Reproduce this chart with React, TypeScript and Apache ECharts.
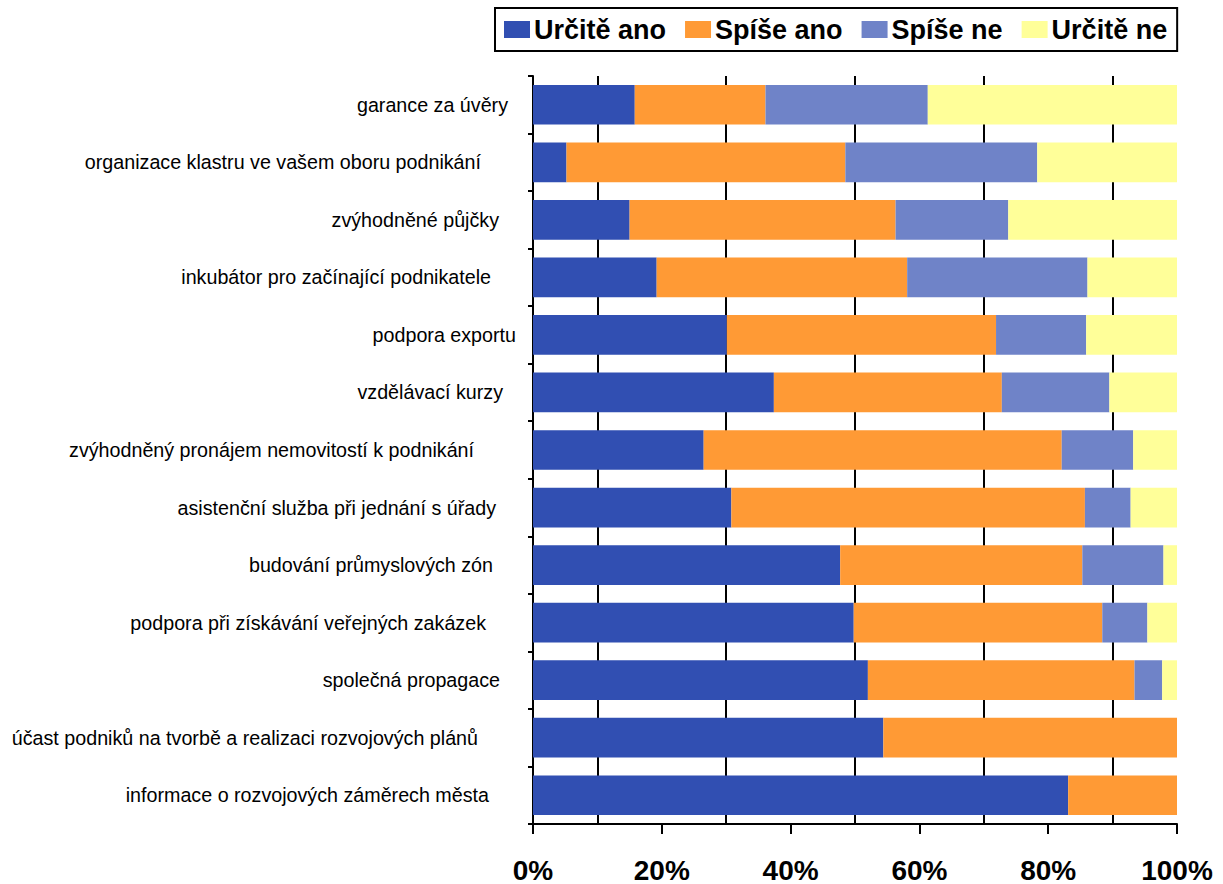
import React, { useEffect, useRef } from "react";
import * as echarts from "echarts";

const categories = [
  "garance za úvěry",
  "organizace klastru ve vašem oboru podnikání",
  "zvýhodněné půjčky",
  "inkubátor pro začínající podnikatele",
  "podpora exportu",
  "vzdělávací kurzy",
  "zvýhodněný pronájem nemovitostí k podnikání",
  "asistenční služba při jednání s úřady",
  "budování průmyslových zón",
  "podpora při získávání veřejných zakázek",
  "společná propagace",
  "účast podniků na tvorbě a realizaci rozvojových plánů",
  "informace o rozvojových záměrech města",
];

const seriesNames = ["Určitě ano", "Spíše ano", "Spíše ne", "Určitě ne"];

const urciteAno = [15.8, 5.2, 15.0, 19.2, 30.1, 37.4, 26.5, 30.8, 47.7, 49.8, 52.0, 54.4, 83.1];
const spiseAno = [20.3, 43.3, 41.3, 38.9, 41.8, 35.4, 55.6, 54.9, 37.6, 38.6, 41.4, 45.6, 16.9];
const spiseNe = [25.2, 29.8, 17.5, 28.0, 14.0, 16.7, 11.1, 7.1, 12.6, 7.0, 4.3, 0, 0];
const urciteNe = [38.7, 21.7, 26.2, 13.9, 14.1, 10.5, 6.8, 7.2, 2.1, 4.6, 2.3, 0, 0];

const gridLineValues = [10, 30, 50, 70, 90];

// right padding of each category label (styling only)
const labelPadRight = [17, 44, 26, 34, 9, 22, 51, 29, 32, 39, 25, 47, 36];

const colors = ["#314FB2", "#FF9A35", "#6F83C8", "#FFFF99"];

export default function App() {
  const ref = useRef<HTMLDivElement>(null);

  useEffect(() => {
    if (!ref.current) return;
    const chart = echarts.init(ref.current, null, { renderer: "svg" });
    const values = [urciteAno, spiseAno, spiseNe, urciteNe];
    const font = "'Liberation Sans', Arial, sans-serif";

    chart.setOption({
      animation: false,
      backgroundColor: "#ffffff",
      color: colors,
      textStyle: { fontFamily: font },
      legend: {
        left: 495,
        top: 8,
        orient: "horizontal",
        icon: "rect",
        itemWidth: 26,
        itemHeight: 17,
        itemGap: 19,
        padding: [8, 10, 8, 9],
        borderColor: "#000",
        borderWidth: 2,
        data: seriesNames,
        textStyle: {
          fontFamily: font,
          fontSize: 27,
          fontWeight: "bold",
          color: "#000",
          padding: [0, 0, 0, -1],
        },
      },
      grid: { left: 533, right: 46, top: 76, bottom: 57, containLabel: false },
      xAxis: {
        type: "value",
        min: 0,
        max: 100,
        interval: 20,
        axisLine: { show: true, lineStyle: { color: "#000", width: 2 } },
        axisTick: { show: true, length: 10, lineStyle: { color: "#000", width: 2 } },
        splitLine: { show: false },
        axisLabel: {
          formatter: "{value}%",
          fontFamily: font,
          fontSize: 28,
          fontWeight: "bold",
          color: "#000",
          margin: 32,
        },
      },
      yAxis: {
        type: "category",
        inverse: true,
        data: categories.map((c, i) => ({
          value: c,
          textStyle: { padding: [0, labelPadRight[i], 0, 0] },
        })),
        axisLine: { show: true, lineStyle: { color: "#000", width: 2 } },
        axisTick: { show: true, length: 5, lineStyle: { color: "#000", width: 2 } },
        splitLine: { show: false },
        axisLabel: {
          fontFamily: font,
          fontSize: 19.7,
          color: "#000",
          margin: 8,
        },
      },
      series: seriesNames.map((name, si) => ({
        name,
        type: "bar",
        stack: "total",
        barCategoryGap: "31%",
        data: values[si],
        itemStyle: { color: colors[si] },
        z: 2,
        ...(si === 0
          ? {
              markLine: {
                silent: true,
                z: 1,
                symbol: ["none", "none"],
                label: { show: false },
                lineStyle: { color: "#000", width: 2, type: "solid" },
                data: gridLineValues.map((v) => ({ xAxis: v })),
              },
            }
          : {}),
      })),
    });

    return () => chart.dispose();
  }, []);

  return (
    <div
      ref={ref}
      style={{ position: "fixed", left: 0, top: 0, width: 1223, height: 884 }}
    />
  );
}
